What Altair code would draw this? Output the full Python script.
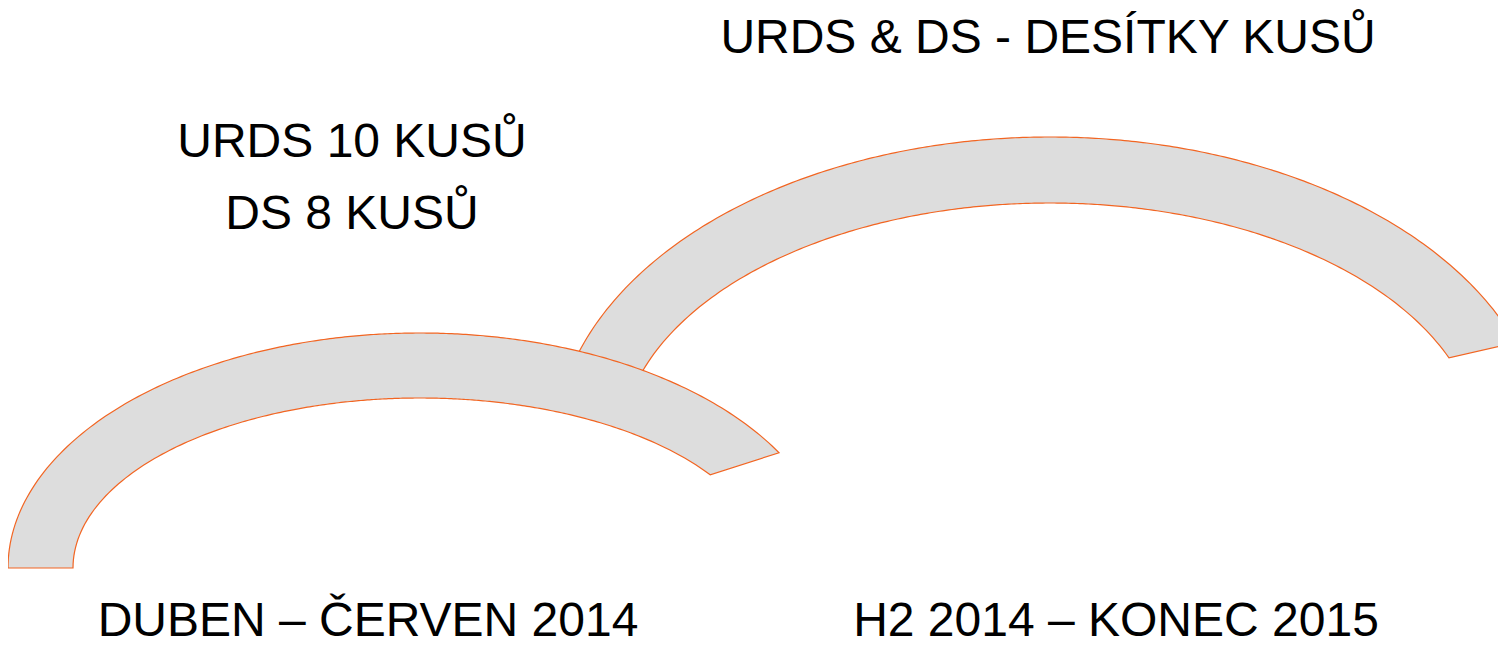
import altair as alt
import numpy as np
import pandas as pd

# ---- arc (block-arc) definitions, reference pixel coordinates ----
arc_ids = ["H2 2014 – KONEC 2015", "DUBEN – ČERVEN 2014"]   # back to front
arc_cx = [1050, 420]
arc_cy = [450, 568]
arc_rx = [496, 412]
arc_ry = [313, 235]
arc_thick = [66, 65]
arc_start_deg = [171, 180]
arc_end_deg = [13, 17.8]

# ---- text labels ----
label_text = ["URDS & DS - DESÍTKY KUSŮ", "URDS 10 KUSŮ", "DS 8 KUSŮ",
              "DUBEN – ČERVEN 2014", "H2 2014 – KONEC 2015"]
label_x = [1048, 352, 352, 368, 1116]
label_y = [53, 157, 229, 636, 636]

FILL = "#DDDDDD"
STROKE = "#F26522"
N = 240


def ellipse_pts(cx, cy, a, b, phis):
    ph = np.radians(phis)
    r = a * b / np.sqrt((b * np.cos(ph)) ** 2 + (a * np.sin(ph)) ** 2)
    return cx + r * np.cos(ph), cy - r * np.sin(ph)


def arc_frame(i):
    phis = np.linspace(arc_start_deg[i], arc_end_deg[i], N)
    ox, oy = ellipse_pts(arc_cx[i], arc_cy[i], arc_rx[i], arc_ry[i], phis)
    t = arc_thick[i]
    ix, iy = ellipse_pts(arc_cx[i], arc_cy[i], arc_rx[i] - t, arc_ry[i] - t, phis[::-1])
    xs = np.concatenate([ox, ix, ox[:1]])
    ys = np.concatenate([oy, iy, oy[:1]])
    return pd.DataFrame({"arc": arc_ids[i], "o": np.arange(len(xs)), "x": xs, "y": ys})


xs = alt.Scale(domain=[8, 1498], nice=False, zero=False)
ys = alt.Scale(domain=[8, 637], nice=False, zero=False, reverse=True)

layers = []
for i in range(len(arc_ids)):
    layers.append(
        alt.Chart(arc_frame(i)).mark_line(
            fill=FILL, stroke=STROKE, strokeWidth=1.2, clip=False
        ).encode(
            x=alt.X("x:Q", scale=xs, axis=None),
            y=alt.Y("y:Q", scale=ys, axis=None),
            order="o:Q",
        )
    )

labels = pd.DataFrame({"t": label_text, "x": label_x, "y": label_y})
text = alt.Chart(labels).mark_text(
    font="Liberation Sans", fontSize=48, color="black",
    align="center", baseline="alphabetic"
).encode(
    x=alt.X("x:Q", scale=xs, axis=None),
    y=alt.Y("y:Q", scale=ys, axis=None),
    text="t:N",
)

chart = alt.layer(*layers, text).properties(
    width=1490, height=629,
    autosize=alt.AutoSizeParams(type="none"),
    padding=0,
).configure_view(stroke=None)

chart.save("out.html", embed_options={"renderer": "svg", "actions": False})
